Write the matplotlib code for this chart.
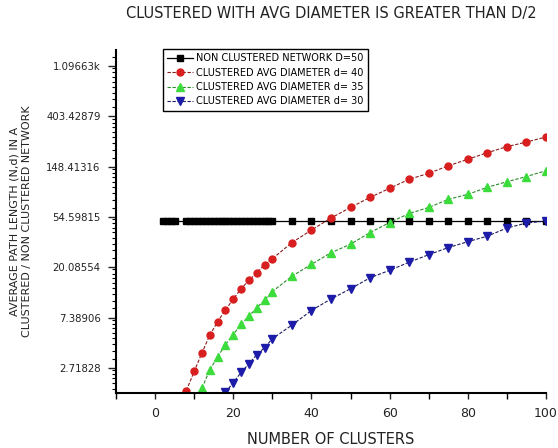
import matplotlib
matplotlib.use('Agg')
import matplotlib.pyplot as plt
import numpy as np
from matplotlib.ticker import FixedLocator, NullFormatter, MultipleLocator

# data (y on a natural log scale)
x_black = [2, 3, 4, 5] + list(range(8, 31)) + list(range(35, 101, 5))
y_black = [50] * len(x_black)

x_red = [8, 10, 12, 14, 16, 18, 20, 22, 24, 26, 28, 30,
         35, 40, 45, 50, 55, 60, 65, 70, 75, 80, 85, 90, 95, 100]
y_red = [1.73, 2.53, 3.67, 5.21, 6.82, 8.58, 10.7, 13.1, 15.5, 18.0, 21.1, 23.8,
         32.8, 42.1, 53.5, 66.0, 80.6, 96.5, 115.6, 130, 151, 172, 196, 221, 242, 268]

x_green = [12, 14, 16, 18, 20, 22, 24, 26, 28, 30,
           35, 40, 45, 50, 55, 60, 65, 70, 75, 80, 85, 90, 95, 100]
y_green = [1.82, 2.61, 3.39, 4.31, 5.26, 6.49, 7.61, 8.94, 10.5, 12.4,
           16.8, 21.3, 26.8, 31.8, 40.0, 48.9, 58.5, 66.0, 77.5, 85.6, 98.5, 110, 122, 137]

x_blue = [18, 20, 22, 24, 26, 28, 30,
          35, 40, 45, 50, 55, 60, 65, 70, 75, 80, 85, 90, 95, 100]
y_blue = [1.67, 2.03, 2.48, 2.94, 3.53, 4.06, 4.85,
          6.36, 8.50, 10.7, 13.1, 16.3, 18.9, 22.2, 25.8, 29.7, 33.4, 37.3, 43.8, 48.4, 50.4]

ytick_vals = [np.e ** k for k in range(1, 8)]
ytick_labels = ['2.71828', '7.38906', '20.08554', '54.59815',
                '148.41316', '403.42879', '1.09663k']

plt.rcParams['font.family'] = 'DejaVu Sans'

fig = plt.figure(figsize=(5.58, 4.48), dpi=100)
ax = fig.add_axes([0.2079, 0.1228, 0.7706, 0.7656])

ax.plot(x_black, y_black, color='black', lw=0.9, marker='s', ms=5,
        mfc='black', mec='black', label='NON CLUSTERED NETWORK D=50')
ax.plot(x_red, y_red, color='#8a1c1c', lw=0.8, ls=(0, (3, 1.5)), marker='o', ms=5,
        mfc='#d81e1e', mec='#d81e1e', label='CLUSTERED AVG DIAMETER d= 40')
ax.plot(x_green, y_green, color='#2a8a2a', lw=0.8, ls=(0, (3, 1.5)), marker='^', ms=5.5,
        mfc='#3ddc3d', mec='#3ddc3d', label='CLUSTERED AVG DIAMETER d= 35')
ax.plot(x_blue, y_blue, color='#1a1a60', lw=0.8, ls=(0, (3, 1.5)), marker='v', ms=5.5,
        mfc='#1c1ca8', mec='#1c1ca8', label='CLUSTERED AVG DIAMETER d= 30')

ax.set_yscale('log', base=np.e)
ax.set_xlim(-10, 100)
ax.set_ylim(np.e ** 0.5, np.e ** 7.32)

ax.yaxis.set_major_locator(FixedLocator(ytick_vals))
ax.set_yticklabels(ytick_labels)
minor = [v * s for v in [np.e ** k for k in range(0, 8)] for s in np.arange(1.2, 2.7, 0.2)]
ax.yaxis.set_minor_locator(FixedLocator(minor))
ax.yaxis.set_minor_formatter(NullFormatter())

ax.xaxis.set_major_locator(FixedLocator([0, 20, 40, 60, 80, 100]))
ax.xaxis.set_minor_locator(MultipleLocator(10))

for s in ['top', 'right']:
    ax.spines[s].set_visible(False)
for s in ['left', 'bottom']:
    ax.spines[s].set_linewidth(1.5)

ax.tick_params(axis='y', which='major', direction='out', length=6, width=1, pad=5, labelsize=7.3, colors='#222222')
ax.tick_params(axis='y', which='minor', direction='out', length=3, width=0.8)
ax.tick_params(axis='x', which='major', direction='out', length=4, width=1, pad=6, labelsize=9, colors='#222222')
ax.tick_params(axis='x', which='minor', direction='out', length=4, width=1)

ax.set_title('CLUSTERED WITH AVG DIAMETER IS GREATER THAN D/2', fontsize=10.5, pad=23, color='#222222')
ax.set_xlabel('NUMBER OF CLUSTERS', fontsize=10.5, labelpad=9, color='#222222')
ax.set_ylabel('AVERAGE PATH LENGTH (N,d) IN A\nCLUSTERED / NON CLUSTERED NETWORK',
              fontsize=8, va='center', linespacing=1.3, color='#222222')
ax.yaxis.set_label_coords(-0.222, 0.5)

leg = ax.legend(loc='upper left', bbox_to_anchor=(0.109, 1.003), fontsize=7,
                frameon=True, fancybox=False, edgecolor='black', framealpha=1,
                handlelength=2.6, handletextpad=0.4, labelspacing=0.45,
                borderpad=0.45, borderaxespad=0)
leg.get_frame().set_linewidth(1.0)

fig.savefig('out.png', dpi=100)
